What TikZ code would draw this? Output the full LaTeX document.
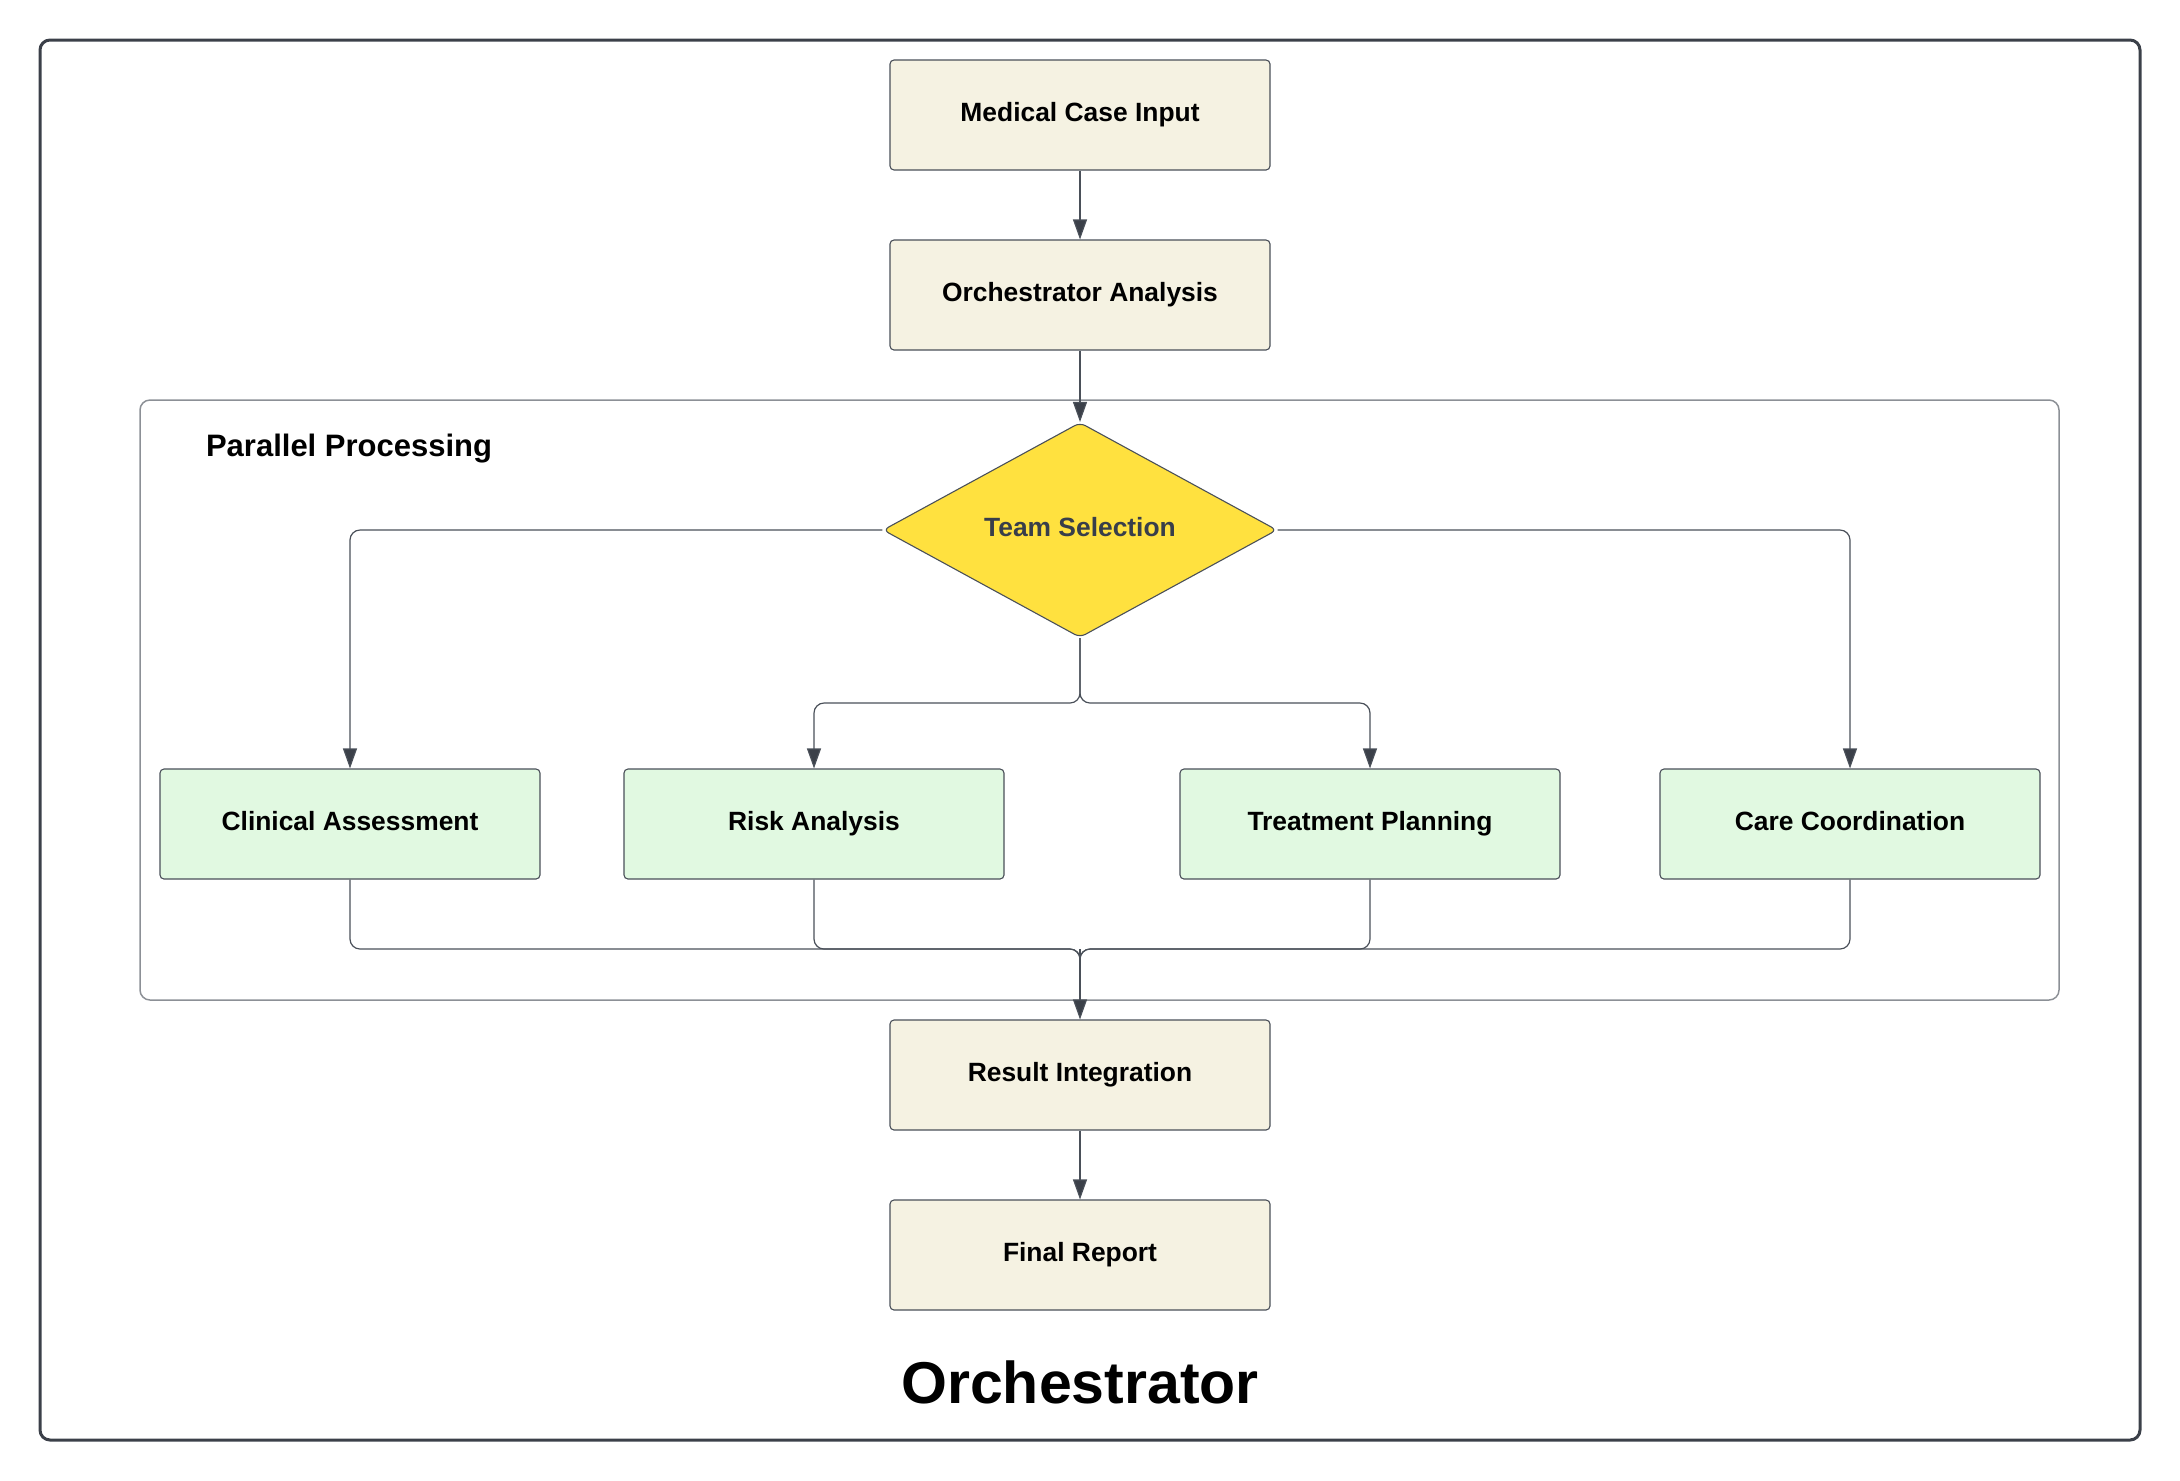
\documentclass[tikz,border=0pt]{standalone}
\usepackage{fontspec}
\setmainfont{Liberation Sans}
\usetikzlibrary{shapes.geometric,arrows.meta}
\definecolor{beige}{HTML}{F5F2E2}
\definecolor{mint}{HTML}{E1F9E1}
\definecolor{gold}{HTML}{FFE13F}
\definecolor{ink}{HTML}{3B4049}
\definecolor{edge}{HTML}{4A5059}
\definecolor{frame}{HTML}{8C9096}
\definecolor{tsink}{HTML}{383E4A}
\begin{document}
\begin{tikzpicture}[x=0.5pt,y=-0.5pt,
  boxbase/.style={draw=edge,line width=0.55pt,rounded corners=2pt,minimum width=190pt,minimum height=55pt,inner sep=0pt,text height=9.6pt,text depth=3.4pt,font=\fontsize{13.2}{15}\selectfont\bfseries},
  beigebox/.style={boxbase,fill=beige},
  greenbox/.style={boxbase,fill=mint},
  decision/.style={diamond,aspect=1.83,draw=edge,line width=0.55pt,fill=gold,rounded corners=3pt,minimum width=197pt,minimum height=107.5pt,inner sep=0pt,text height=9.6pt,text depth=3.4pt,text=tsink,font=\fontsize{13.2}{15}\selectfont\bfseries},
  conn/.style={draw=edge,line width=0.6pt,rounded corners=5pt,-{Triangle[length=10pt,width=7pt,fill=ink]}},
  plain/.style={draw=edge,line width=0.6pt,rounded corners=5pt}
]
\useasboundingbox (0,0) rectangle (2180,1480);
% outer frame
\draw[ink,line width=1.5pt,rounded corners=5pt] (40,40) rectangle (2140,1440);
% parallel container
\draw[frame,line width=0.75pt,rounded corners=5pt] (140,400) rectangle (2059,1000);
\node[font=\fontsize{15.5}{18}\selectfont\bfseries,anchor=west] (pp) at (199,449) {Parallel Processing};

\node[beigebox] (mci) at (1080,115) {Medical Case Input};
\node[beigebox] (oa) at (1080,295) {Orchestrator Analysis};
\node[decision] (ts) at (1080,530) {Team Selection};

\node[greenbox] (ca) at (350,824) {Clinical Assessment};
\node[greenbox] (ra) at (814,824) {Risk Analysis};
\node[greenbox] (tp) at (1370,824) {Treatment Planning};
\node[greenbox] (cc) at (1850,824) {Care Coordination};

\node[beigebox] (ri) at (1080,1075) {Result Integration};
\node[beigebox] (fr) at (1080,1255) {Final Report};

\node[font=\fontsize{29.5}{34}\selectfont\bfseries] (title) at (1080,1382) {Orchestrator};

\coordinate (split) at (1080,703);
\coordinate (merge) at (1080,949);

\draw[conn] (mci.south) -- (oa.north);
\draw[conn] (oa.south) -- (ts.north);
\draw[conn] (ts.west) -| (ca.north);
\draw[conn] (ts.east) -| (cc.north);
\draw[conn] (ts.south) -- (split) -| (ra.north);
\draw[conn] (ts.south) -- (split) -| (tp.north);
\draw[plain] (ca.south) |- (merge) -- (1080,990);
\draw[plain] (ra.south) |- (merge) -- (1080,990);
\draw[plain] (tp.south) |- (merge) -- (1080,990);
\draw[plain] (cc.south) |- (merge) -- (1080,990);
\draw[conn] (merge) -- (ri.north);
\draw[conn] (ri.south) -- (fr.north);
\end{tikzpicture}
\end{document}
